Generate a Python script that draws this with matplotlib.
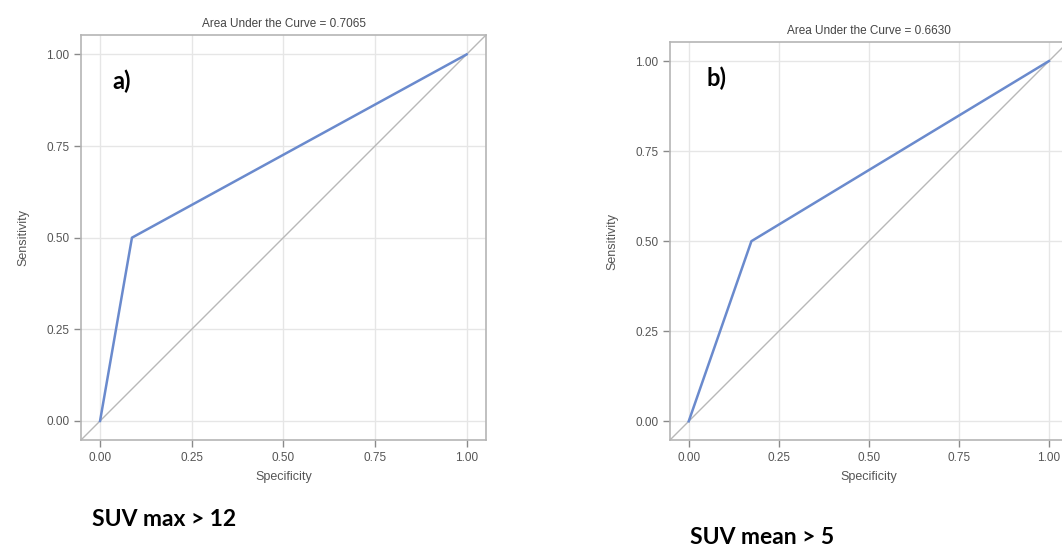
import matplotlib
matplotlib.use("Agg")
import matplotlib.pyplot as plt

plt.rcParams["font.family"] = ["Liberation Sans", "DejaVu Sans"]

# Data
ticks = [0.0, 0.25, 0.5, 0.75, 1.0]
tick_labels = ["0.00", "0.25", "0.50", "0.75", "1.00"]
roc_a_x = [0.0, 0.087, 1.0]
roc_a_y = [0.0, 0.5, 1.0]
roc_b_x = [0.0, 0.174, 1.0]
roc_b_y = [0.0, 0.5, 1.0]
titles = ["Area Under the Curve = 0.7065", "Area Under the Curve = 0.6630"]
panel_labels = ["a)", "b)"]
captions = ["SUV max > 12", "SUV mean > 5"]

W, H = 1062, 548
fig = plt.figure(figsize=(W / 100, H / 100), dpi=100)

def px_axes(left, top, right, bottom):
    return fig.add_axes([left / W, 1 - bottom / H, (right - left) / W, (bottom - top) / H])

lim = (-0.052, 1.053)
panels = [
    (px_axes(81, 35, 486, 440), roc_a_x, roc_a_y, (0.033, 0.926)),
    (px_axes(670, 42, 1068, 440), roc_b_x, roc_b_y, (0.05, 0.953)),
]

for i, (ax, xs, ys, lpos) in enumerate(panels):
    ax.set_xlim(lim)
    ax.set_ylim(lim)
    ax.plot(lim, lim, color="#b8b8b8", lw=1.0, zorder=2)
    ax.plot(xs, ys, color="#6A8ACD", lw=1.8, zorder=3)
    ax.set_xticks(ticks)
    ax.set_xticklabels(tick_labels)
    ax.set_yticks(ticks)
    ax.set_yticklabels(tick_labels)
    ax.grid(True, color="#e6e6e6", lw=1.0, zorder=0)
    ax.set_axisbelow(True)
    for s in ax.spines.values():
        s.set_color("#b5b5b5")
        s.set_linewidth(1.2)
    ax.tick_params(colors="#8a8a8a", labelcolor="#555555", labelsize=8.5, length=5, width=1)
    ax.set_xlabel("Specificity", fontsize=9, color="#555555", labelpad=5)
    ax.set_ylabel("Sensitivity", fontsize=9, color="#555555", labelpad=12)
    ax.set_title(titles[i], fontsize=8.5, color="#444444", pad=6)
    ax.text(lpos[0], lpos[1], panel_labels[i], fontsize=17, fontweight="bold",
            family="Lato", color="black", va="center", ha="left")

fig.text(92 / W, 1 - 520 / H, captions[0], fontsize=16.5, fontweight="bold",
         family="Lato", va="center", ha="left")
fig.text(690 / W, 1 - 537 / H, captions[1], fontsize=16.5, fontweight="bold",
         family="Lato", va="center", ha="left")

fig.savefig("out.png", dpi=100)
